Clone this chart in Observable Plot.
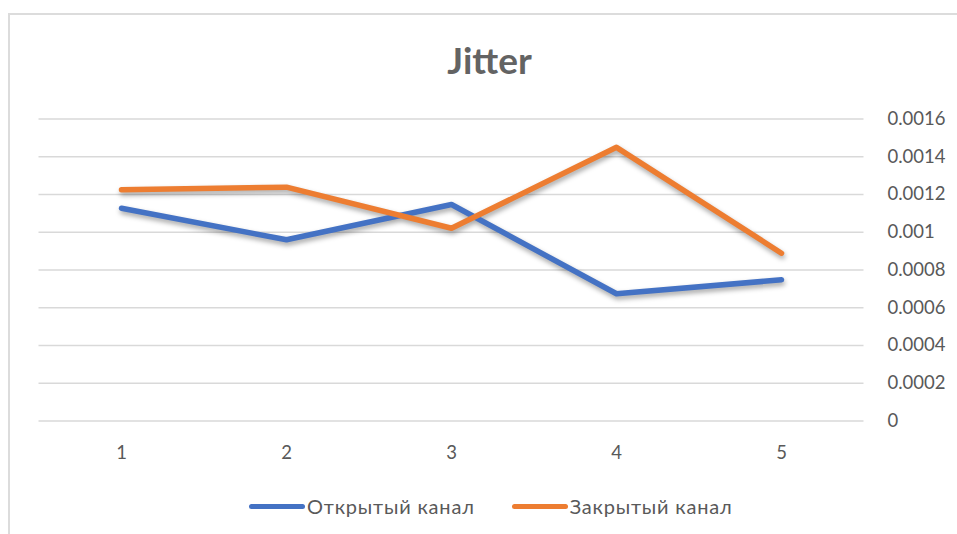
<!DOCTYPE html>
<html>
<head>
<meta charset="utf-8">
<script src="https://cdn.jsdelivr.net/npm/d3@7"></script>
<script src="https://cdn.jsdelivr.net/npm/@observablehq/plot@0.6"></script>
<style>
  html, body { margin: 0; padding: 0; background: #fff; }
  #wrap { position: relative; width: 957px; height: 534px; overflow: hidden; font-family: Lato, "Open Sans", sans-serif; }
  #frame { position: absolute; left: 8px; top: 13px; width: 960px; height: 540px;
           border-left: 2px solid #dcdcdc; border-top: 2px solid #dcdcdc; box-sizing: border-box; }
  #title { position: relative; height: 37px; padding-top: 41px; line-height: 37px; text-align: center;
           font-size: 37px; font-weight: bold; color: #636363; padding-left: 22px; }
  #chart svg { display: block; }
  #chart g[aria-label="line"] { filter: drop-shadow(1px 3px 2.5px rgba(0,0,0,0.35)); }
  #legend { position: relative; padding-top: 17px; padding-left: 249px; display: flex; align-items: center;
            height: 22px; font-size: 20px; letter-spacing: 0.8px; color: #595959; }
  .item { display: flex; align-items: center; margin-right: 37px; }
  .sw { width: 56px; height: 5px; border-radius: 3px; margin-right: 2px; }
</style>
</head>
<body>
<div id="wrap">
  <div id="frame"></div>
  <div id="title"></div>
  <div id="chart"></div>
  <div id="legend"></div>
</div>
<script>
const titleText = "Jitter";
const categories = [1, 2, 3, 4, 5];
const seriesNames = ["Открытый канал", "Закрытый канал"];
const seriesColors = ["#4472C4", "#ED7D31"];
const openChannel = [0.001127, 0.00096, 0.001147, 0.000674, 0.000748];
const closedChannel = [0.001225, 0.001239, 0.001021, 0.00145, 0.000889];
const yTicks = [0, 0.0002, 0.0004, 0.0006, 0.0008, 0.001, 0.0012, 0.0014, 0.0016];
const yTickLabels = ["0", "0.0002", "0.0004", "0.0006", "0.0008", "0.001", "0.0012", "0.0014", "0.0016"];

document.getElementById("title").textContent = titleText;

const seriesValues = [openChannel, closedChannel];
const data = [];
seriesNames.forEach((name, s) => {
  categories.forEach((c, i) => data.push({series: name, x: c, y: seriesValues[s][i]}));
});

const chart = Plot.plot({
  width: 957,
  height: 400,
  marginTop: 40.5,
  marginBottom: 57.5,
  marginLeft: 38.5,
  marginRight: 93.5,
  style: { fontFamily: 'Lato, "Open Sans", sans-serif', fontSize: "18.5px", color: "#595959", background: "transparent", overflow: "visible" },
  x: { type: "point", domain: categories, padding: 0.5, label: null },
  y: { domain: [0, 0.0016], label: null },
  color: { domain: seriesNames, range: seriesColors },
  marks: [
    Plot.ruleY(yTicks, { stroke: "#d9d9d9", strokeWidth: 1.5 }),
    Plot.axisX({ tickSize: 0, tickPadding: 25, label: null, tickFormat: d => String(d) }),
    Plot.axisY({ anchor: "right", ticks: yTicks, tickSize: 0, tickPadding: 23.5, label: null,
                 tickFormat: d => yTickLabels[yTicks.indexOf(d)] }),
    Plot.line(data, { x: "x", y: "y", z: "series", stroke: "series", strokeWidth: 5.5,
                      strokeLinecap: "round", strokeLinejoin: "round" })
  ]
});
document.getElementById("chart").appendChild(chart);

const legend = document.getElementById("legend");
seriesNames.forEach((name, i) => {
  const item = document.createElement("div");
  item.className = "item";
  const sw = document.createElement("div");
  sw.className = "sw";
  sw.style.background = seriesColors[i];
  const t = document.createElement("span");
  t.textContent = name;
  item.appendChild(sw);
  item.appendChild(t);
  legend.appendChild(item);
});
</script>
</body>
</html>
